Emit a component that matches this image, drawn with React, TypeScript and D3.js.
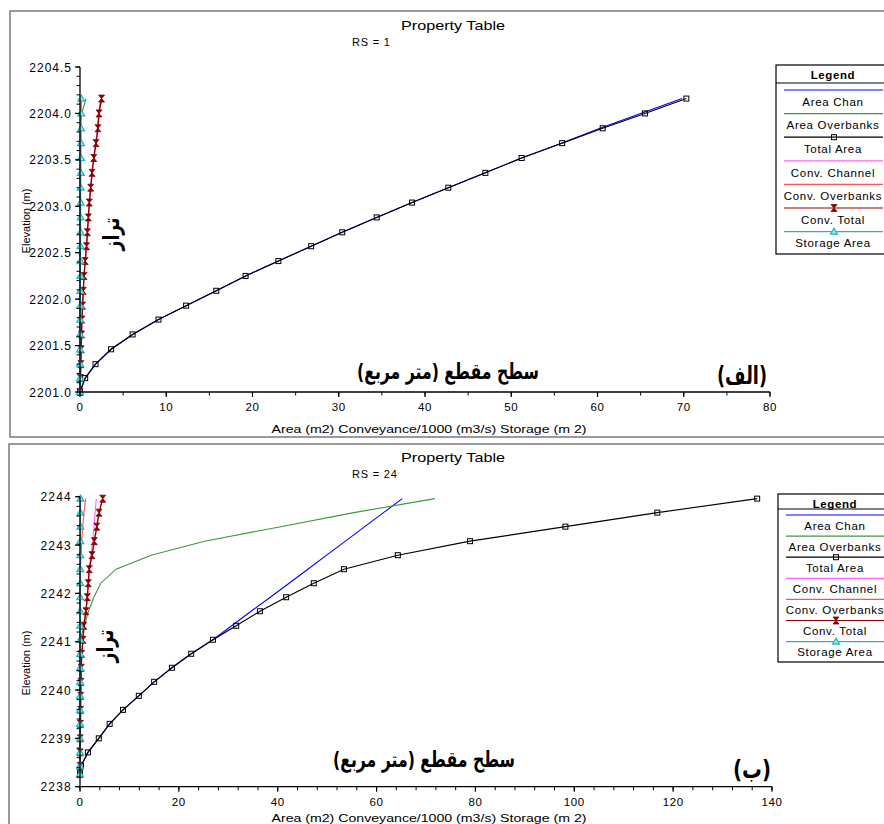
import React from "react";
import * as d3 from "d3";

// ---------- Panel (الف) RS = 1 ----------
const TOP_ELEV = [2201.0, 2201.15, 2201.3, 2201.46, 2201.62, 2201.78, 2201.93, 2202.09, 2202.25, 2202.41, 2202.57, 2202.72, 2202.88, 2203.04, 2203.2, 2203.36, 2203.52, 2203.68, 2203.84, 2204.0, 2204.16];
const TOP_TOTAL_AREA = [0, 0.6, 1.8, 3.6, 6.1, 9.1, 12.3, 15.8, 19.2, 23.0, 26.8, 30.4, 34.4, 38.5, 42.7, 47.0, 51.2, 55.9, 60.6, 65.5, 70.3];
const TOP_AREA_OB = [0, 0, 0, 0, 0, 0, 0, 0, 0, 0, 0, 0, 0, 0, 0, 0, 0, 0, 0, 0.2, 0.7];
const TOP_AREA_CHAN = [0, 0.6, 1.8, 3.6, 6.1, 9.1, 12.3, 15.8, 19.2, 23.0, 26.8, 30.4, 34.4, 38.5, 42.7, 47.0, 51.2, 55.8, 60.3, 65.0, 69.8];
const TOP_CONV_TOTAL = [0, 0.05, 0.1, 0.14, 0.18, 0.22, 0.3, 0.38, 0.47, 0.6, 0.76, 0.86, 0.97, 1.08, 1.24, 1.4, 1.6, 1.86, 2.08, 2.2, 2.5];
const TOP_CONV_OB = [0, 0, 0, 0, 0, 0, 0, 0, 0, 0, 0, 0, 0, 0, 0.01, 0.02, 0.03, 0.04, 0.05, 0.07, 0.09];
const TOP_CONV_CHAN = [0, 0.05, 0.1, 0.14, 0.18, 0.22, 0.3, 0.38, 0.47, 0.6, 0.76, 0.86, 0.97, 1.08, 1.23, 1.38, 1.57, 1.82, 2.03, 2.13, 2.41];
const TOP_STORAGE = [0, 0.005, 0.01, 0.015, 0.02, 0.03, 0.035, 0.04, 0.05, 0.055, 0.06, 0.07, 0.075, 0.08, 0.09, 0.1, 0.11, 0.12, 0.13, 0.14, 0.15];
const TOP_X_TICKS = [0, 10, 20, 30, 40, 50, 60, 70, 80];
const TOP_Y_TICKS = [2201.0, 2201.5, 2202.0, 2202.5, 2203.0, 2203.5, 2204.0, 2204.5];

// ---------- Panel (ب) RS = 24 ----------
const BOT_ELEV = [2238.26, 2238.43, 2238.71, 2239.0, 2239.3, 2239.59, 2239.88, 2240.17, 2240.46, 2240.75, 2241.04, 2241.33, 2241.63, 2241.92, 2242.21, 2242.5, 2242.79, 2243.08, 2243.38, 2243.67, 2243.96];
const BOT_TOTAL_AREA = [0, 0.2, 1.6, 3.8, 6.0, 8.7, 11.9, 15.0, 18.6, 22.5, 26.9, 31.6, 36.4, 41.7, 47.3, 53.4, 64.3, 78.9, 98.2, 116.8, 137.0];
const BOT_AREA_CHAN = [0, 0.2, 1.6, 3.8, 6.0, 8.7, 11.9, 15.0, 18.6, 22.5, 26.9, 30.7, 34.6, 38.5, 42.3, 46.1, 49.9, 53.7, 57.6, 61.4, 65.2];
const BOT_AREA_OB = [0, 0, 0, 0, 0, 0, 0, 0, 0, 0, 0, 0.9, 1.7, 2.8, 4.2, 7.3, 14.4, 25.2, 40.6, 55.4, 71.8];
const BOT_CONV_TOTAL = [0, 0.01, 0.03, 0.06, 0.09, 0.12, 0.15, 0.2, 0.26, 0.34, 0.62, 0.78, 1.2, 1.48, 1.68, 1.88, 2.43, 2.9, 3.4, 3.85, 4.6];
const BOT_CONV_OB = [0, 0, 0, 0, 0, 0, 0, 0, 0, 0, 0, 0, 0, 0, 0, 0.08, 0.2, 0.35, 0.55, 0.8, 1.15];
const BOT_CONV_CHAN = [0, 0.01, 0.03, 0.06, 0.09, 0.12, 0.15, 0.2, 0.26, 0.34, 0.62, 0.78, 1.2, 1.48, 1.68, 1.8, 2.23, 2.55, 2.85, 3.05, 3.3];
const BOT_STORAGE = [0, 0.003, 0.006, 0.01, 0.013, 0.016, 0.02, 0.025, 0.03, 0.035, 0.04, 0.045, 0.05, 0.055, 0.06, 0.065, 0.07, 0.075, 0.08, 0.09, 0.1];
const BOT_X_TICKS = [0, 20, 40, 60, 80, 100, 120, 140];
const BOT_Y_TICKS = [2238, 2239, 2240, 2241, 2242, 2243, 2244];

const SERIES_NAMES = ["Area Chan", "Area Overbanks", "Total Area", "Conv. Channel", "Conv. Overbanks", "Conv. Total", "Storage Area"];
const SERIES_COLORS = ["#0000ff", "#3a9a3a", "#000000", "#ff66ff", "#ff5050", "#8b0000", "#20b8c0"];
const SERIES_MARKERS = ["none", "none", "square", "none", "none", "hourglass", "triangle"];

const FONT = "'Liberation Sans', Arial, sans-serif";
const AR_FONT = "'DejaVu Sans', sans-serif";

function Marker({ kind, x, y, color }: any) {
  if (kind === "square")
    return <rect x={x - 2.5} y={y - 2.5} width={5} height={5} fill="none" stroke={color} strokeWidth={1} />;
  if (kind === "hourglass")
    return <path d={`M${x - 3},${y - 3.5}L${x + 3},${y - 3.5}L${x - 3},${y + 3.5}L${x + 3},${y + 3.5}Z`} fill={color} stroke={color} strokeWidth={0.8} />;
  if (kind === "triangle")
    return <path d={`M${x},${y - 3.5}L${x + 3.5},${y + 2.5}L${x - 3.5},${y + 2.5}Z`} fill="#9fe4e8" stroke={color} strokeWidth={1.2} />;
  return null;
}

function Panel(p: any) {
  const x = d3.scaleLinear().domain(p.xDomain).range([p.x0, p.x1]);
  const y = d3.scaleLinear().domain(p.yDomain).range([p.y0, p.y1]);
  const line = d3.line<[number, number]>().x((d) => x(d[0])).y((d) => y(d[1]));
  const xMinor = d3.range(p.xDomain[0], p.xDomain[1] + 1e-9, p.xMinorStep);
  const yMinor = d3.range(p.yDomain[0], p.yDomain[1] + 1e-9, p.yMinorStep);
  const axisLabelW = 315;
  const rtl = { direction: "rtl", unicodeBidi: "embed" } as any;
  return (
    <g>
      <rect x={p.frame[0]} y={p.frame[1]} width={p.frame[2]} height={p.frame[3]} fill="none" stroke="#7a7a7a" strokeWidth={1.5} />
      <text x={453} y={p.titleY} textAnchor="middle" fontFamily={FONT} fontSize={13} textLength={104} lengthAdjust="spacingAndGlyphs">Property Table</text>
      <text x={352} y={p.titleY + 16} fontFamily={FONT} fontSize={11} letterSpacing={0.8}>{p.rs}</text>
      {/* series */}
      {p.series.map((s: number[], i: number) => (
        <path key={"l" + i} d={line(s.map((v, k) => [v, p.elev[k]]) as any) || ""} fill="none" stroke={SERIES_COLORS[i]} strokeWidth={i === 5 ? 1.4 : 1.1} />
      ))}
      {p.series.map((s: number[], i: number) =>
        SERIES_MARKERS[i] === "none" ? null : (
          <g key={"m" + i}>
            {s.map((v, k) => (
              <Marker key={k} kind={SERIES_MARKERS[i]} x={x(v)} y={y(p.elev[k])} color={SERIES_COLORS[i]} />
            ))}
          </g>
        )
      )}
      {/* axes */}
      <line x1={p.x0} x2={p.x0} y1={p.y0} y2={p.y1} stroke="#000" strokeWidth={1.3} />
      <line x1={p.x0} x2={p.x1} y1={p.y0} y2={p.y0} stroke="#000" strokeWidth={1.3} />
      {yMinor.map((t: number, i: number) => (
        <line key={"ym" + i} x1={p.x0 - 3.5} x2={p.x0} y1={y(t)} y2={y(t)} stroke="#000" strokeWidth={1} />
      ))}
      {p.yTicks.map((t: number, i: number) => (
        <g key={"yt" + i}>
          <line x1={p.x0 - 5} x2={p.x0} y1={y(t)} y2={y(t)} stroke="#000" strokeWidth={1.2} />
          <text x={p.x0 - 8} y={y(t) + 4.5} textAnchor="end" fontFamily={FONT} fontSize={12} letterSpacing={p.yLetter}>{p.yFormat(t)}</text>
        </g>
      ))}
      {xMinor.map((t: number, i: number) => (
        <line key={"xm" + i} x1={x(t)} x2={x(t)} y1={p.y0} y2={p.y0 + 3.5} stroke="#000" strokeWidth={1} />
      ))}
      {p.xTicks.map((t: number, i: number) => (
        <g key={"xt" + i}>
          <line x1={x(t)} x2={x(t)} y1={p.y0} y2={p.y0 + 5} stroke="#000" strokeWidth={1.2} />
          <text x={x(t)} y={p.y0 + 19} textAnchor="middle" fontFamily={FONT} fontSize={11.5} letterSpacing={0.6}>{t}</text>
        </g>
      ))}
      <text x={429} y={p.xLabelY} textAnchor="middle" fontFamily={FONT} fontSize={11} textLength={axisLabelW} lengthAdjust="spacingAndGlyphs">Area (m2)  Conveyance/1000 (m3/s)  Storage (m 2)</text>
      <text transform={`translate(30,${p.yLabelCY}) rotate(-90)`} textAnchor="middle" fontFamily={FONT} fontSize={11}>Elevation (m)</text>
      {/* Persian annotations */}
      <text x={p.arX} y={p.arY} textAnchor="middle" direction="rtl" style={rtl} fontFamily={AR_FONT} fontWeight="bold" fontSize={22} textLength={182} lengthAdjust="spacingAndGlyphs">سطح مقطع (متر مربع)</text>
      <text x={p.tagX} y={p.tagY} textAnchor="middle" direction="rtl" style={rtl} fontFamily={AR_FONT} fontWeight="bold" fontSize={25} textLength={p.tagW} lengthAdjust="spacingAndGlyphs">{p.tag}</text>
      <text transform={`translate(${p.tarazX},${p.tarazY}) rotate(-90)`} textAnchor="middle" dominantBaseline="middle" direction="rtl" style={rtl} fontFamily={AR_FONT} fontWeight="bold" fontSize={23} textLength={33} lengthAdjust="spacingAndGlyphs">تراز</text>
      {/* legend */}
      <g>
        <rect x={p.lgX} y={p.lgY} width={140} height={p.lgH} fill="#fff" stroke="#000" strokeWidth={1.2} />
        <text x={p.lgCx} y={p.lgY + 14} textAnchor="middle" fontFamily={FONT} fontWeight="bold" fontSize={11.5} letterSpacing={0.6}>Legend</text>
        <line x1={p.lgX} x2={p.lgX + 140} y1={p.lgHeaderLine} y2={p.lgHeaderLine} stroke="#000" strokeWidth={1.2} />
        {SERIES_NAMES.map((n, i) => {
          const ly = p.lgFirst + i * p.lgStep;
          return (
            <g key={"lg" + i}>
              <line x1={p.lgX + 8} x2={p.lgX + 107} y1={ly} y2={ly} stroke={SERIES_COLORS[i]} strokeWidth={1.2} />
              <Marker kind={SERIES_MARKERS[i]} x={p.lgX + 58} y={ly} color={SERIES_COLORS[i]} />
              <text x={p.lgCx} y={ly + p.lgStep / 2 + 4} textAnchor="middle" fontFamily={FONT} fontSize={11.5} letterSpacing={0.7}>{n}</text>
            </g>
          );
        })}
      </g>
    </g>
  );
}

export default function App() {
  const top = {
    frame: [10, 11, 900, 426],
    titleY: 30,
    rs: "RS = 1",
    elev: TOP_ELEV,
    series: [TOP_AREA_CHAN, TOP_AREA_OB, TOP_TOTAL_AREA, TOP_CONV_CHAN, TOP_CONV_OB, TOP_CONV_TOTAL, TOP_STORAGE],
    xDomain: [0, 80], x0: 80, x1: 770,
    yDomain: [2201, 2204.5], y0: 392, y1: 67,
    xTicks: TOP_X_TICKS, yTicks: TOP_Y_TICKS,
    xMinorStep: 5, yMinorStep: 0.1,
    yFormat: (t: number) => t.toFixed(1), yLetter: 1,
    xLabelY: 433, yLabelCY: 221,
    arX: 448, arY: 379, tag: "(الف)", tagX: 742, tagY: 384, tagW: 50,
    tarazX: 112, tarazY: 234,
    lgX: 776, lgY: 65, lgH: 189, lgCx: 833, lgHeaderLine: 83, lgFirst: 90, lgStep: 23.6,
  };
  const bot = {
    frame: [9, 444, 900, 420],
    titleY: 462,
    rs: "RS = 24",
    elev: BOT_ELEV,
    series: [BOT_AREA_CHAN, BOT_AREA_OB, BOT_TOTAL_AREA, BOT_CONV_CHAN, BOT_CONV_OB, BOT_CONV_TOTAL, BOT_STORAGE],
    xDomain: [0, 140], x0: 80, x1: 772,
    yDomain: [2238, 2244], y0: 786.7, y1: 496.7,
    xTicks: BOT_X_TICKS, yTicks: BOT_Y_TICKS,
    xMinorStep: 4, yMinorStep: 0.2,
    yFormat: (t: number) => String(t), yLetter: 1.2,
    xLabelY: 822, yLabelCY: 663,
    arX: 424, arY: 767, tag: "(ب)", tagX: 752, tagY: 778, tagW: 38,
    tarazX: 106, tarazY: 646,
    lgX: 778, lgY: 494, lgH: 168, lgCx: 835, lgHeaderLine: 509, lgFirst: 515, lgStep: 21.1,
  };
  return (
    <div style={{ position: "absolute", left: 0, top: 0, width: 884, height: 824, overflow: "hidden", background: "#fff" }}>
      <svg width={884} height={824} style={{ display: "block" }}>
        <rect width={884} height={824} fill="#fff" />
        <Panel {...top} />
        <Panel {...bot} />
      </svg>
    </div>
  );
}
